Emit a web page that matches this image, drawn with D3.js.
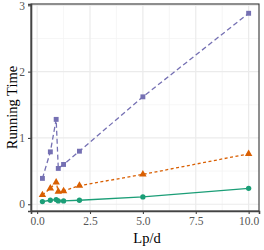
<!DOCTYPE html>
<html><head><meta charset="utf-8">
<script src="https://cdn.jsdelivr.net/npm/d3@7"></script>
<style>body{margin:0;background:#fff}svg{display:block}</style>
</head><body>
<script>
const xValues = [0.25, 0.625, 0.9, 1.0, 1.25, 2, 5, 10];
const purpleSeries = [0.39, 0.79, 1.28, 0.54, 0.60, 0.80, 1.62, 2.88];
const orangeSeries = [0.14, 0.24, 0.33, 0.19, 0.20, 0.28, 0.45, 0.76];
const greenSeries  = [0.04, 0.06, 0.07, 0.05, 0.05, 0.06, 0.11, 0.24];
const xTicks = [0, 2.5, 5, 7.5, 10];
const xTickLabels = ["0.0", "2.5", "5.0", "7.5", "10.0"];
const yTicks = [0, 1, 2, 3];
const xMinor = [1.25, 3.75, 6.25, 8.75];
const yMinor = [0.5, 1.5, 2.5];

const W = 264, H = 250;
const L = 31, R = 259, T = 4, B = 211;
const svg = d3.select("body").append("svg").attr("width", W).attr("height", H);

const x = d3.scaleLinear().domain([-0.29, 10.49]).range([L, R]);
const y = d3.scaleLinear().domain([-0.102, 3.02]).range([B, T]);

// grid
const g = svg.append("g");
g.selectAll(".xm").data(xMinor).enter().append("line")
  .attr("x1", d => x(d)).attr("x2", d => x(d)).attr("y1", T).attr("y2", B)
  .attr("stroke", "#F2F2F2").attr("stroke-width", 0.7);
g.selectAll(".ym").data(yMinor).enter().append("line")
  .attr("y1", d => y(d)).attr("y2", d => y(d)).attr("x1", L).attr("x2", R)
  .attr("stroke", "#F2F2F2").attr("stroke-width", 0.7);
g.selectAll(".xM").data(xTicks).enter().append("line")
  .attr("x1", d => x(d)).attr("x2", d => x(d)).attr("y1", T).attr("y2", B)
  .attr("stroke", "#EBEBEB").attr("stroke-width", 1.2);
g.selectAll(".yM").data(yTicks).enter().append("line")
  .attr("y1", d => y(d)).attr("y2", d => y(d)).attr("x1", L).attr("x2", R)
  .attr("stroke", "#EBEBEB").attr("stroke-width", 1.2);

// series
const series = [
  {vals: greenSeries, color: "#1B9E77", dash: null, shape: "circle"},
  {vals: orangeSeries, color: "#D95F02", dash: "3,2.5", shape: "triangle"},
  {vals: purpleSeries, color: "#7570B3", dash: "5,3", shape: "square"}
];
const line = d3.line().x(d => x(d[0])).y(d => y(d[1]));
series.forEach(s => {
  const pts = xValues.map((v, i) => [v, s.vals[i]]);
  svg.append("path").datum(pts).attr("d", line)
    .attr("fill", "none").attr("stroke", s.color).attr("stroke-width", 1.3)
    .attr("stroke-dasharray", s.dash);
  const sym = s.shape === "circle" ? d3.symbolCircle : s.shape === "triangle" ? d3.symbolTriangle : d3.symbolSquare;
  const size = s.shape === "circle" ? 22 : s.shape === "triangle" ? 24 : 24;
  svg.selectAll(null).data(pts).enter().append("path")
    .attr("d", d3.symbol().type(sym).size(size))
    .attr("transform", d => `translate(${x(d[0])},${y(d[1])})`)
    .attr("fill", s.color);
});

// panel border
svg.append("rect").attr("x", L).attr("y", T).attr("width", R - L).attr("height", B - T)
  .attr("fill", "none").attr("stroke", "#333").attr("stroke-width", 1.1);

// axes
const xAxis = d3.axisBottom(x).tickValues(xTicks).tickFormat((d, i) => xTickLabels[i]).tickSize(3).tickPadding(3);
const yAxis = d3.axisLeft(y).tickValues(yTicks).tickFormat(d3.format("d")).tickSize(3).tickPadding(3);
const gx = svg.append("g").attr("transform", `translate(0,${B})`).call(xAxis);
const gy = svg.append("g").attr("transform", `translate(${L},0)`).call(yAxis);
[gx, gy].forEach(a => {
  a.select(".domain").attr("stroke", "#444").attr("stroke-width", 1.6);
  a.selectAll(".tick line").attr("stroke", "#444").attr("stroke-width", 1.1);
  a.selectAll(".tick text").attr("fill", "#555").attr("font-family", "'Liberation Serif', serif").attr("font-size", 11.5);
});

svg.append("text").attr("x", (L + R) / 2 + 2).attr("y", 243).attr("text-anchor", "middle")
  .attr("font-family", "'Liberation Serif', serif").attr("font-size", 14.5).attr("fill", "#000").text("Lp/d");
svg.append("text").attr("transform", `translate(12,${(T + B) / 2}) rotate(-90)`).attr("text-anchor", "middle")
  .attr("dominant-baseline", "central")
  .attr("font-family", "'Liberation Serif', serif").attr("font-size", 14.5).attr("fill", "#000").text("Running Time");
</script>
</body></html>
